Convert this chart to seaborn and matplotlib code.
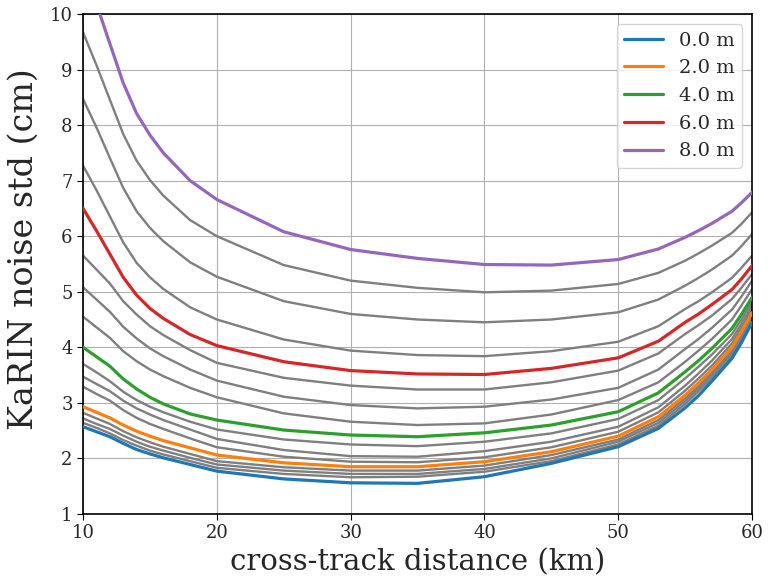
import numpy as np
import pandas as pd
import matplotlib
matplotlib.use("Agg")
import matplotlib.pyplot as plt
import seaborn as sns

# cross-track distance (km)
distance = [10, 11, 12, 13, 14, 15, 16, 18, 20, 25, 30, 35, 40, 45, 50, 53, 55, 56, 57, 58.5, 59.2, 60]

# significant wave height (m) of each curve
swh = [0.0, 0.5, 1.0, 1.5, 2.0, 2.5, 3.0, 3.5, 4.0, 4.5, 5.0, 5.5, 6.0, 6.5, 7.0, 7.5, 8.0]

# KaRIN noise std (cm), one row per swh value
noise_00 = [2.57, 2.48, 2.39, 2.27, 2.16, 2.08, 2.01, 1.89, 1.77, 1.63, 1.56, 1.55, 1.67, 1.91, 2.21, 2.54, 2.91, 3.13, 3.39, 3.80, 4.08, 4.45]
noise_05 = [2.64, 2.55, 2.45, 2.33, 2.23, 2.14, 2.07, 1.95, 1.83, 1.72, 1.66, 1.67, 1.76, 1.95, 2.25, 2.59, 2.98, 3.21, 3.45, 3.86, 4.15, 4.49]
noise_10 = [2.72, 2.62, 2.53, 2.41, 2.30, 2.21, 2.14, 2.01, 1.89, 1.78, 1.72, 1.72, 1.81, 2.00, 2.30, 2.64, 3.03, 3.26, 3.50, 3.90, 4.19, 4.53]
noise_15 = [2.82, 2.72, 2.62, 2.49, 2.38, 2.29, 2.21, 2.08, 1.95, 1.84, 1.78, 1.78, 1.87, 2.06, 2.34, 2.69, 3.08, 3.30, 3.54, 3.94, 4.23, 4.57]
noise_20 = [2.93, 2.83, 2.73, 2.60, 2.49, 2.40, 2.32, 2.19, 2.06, 1.92, 1.85, 1.85, 1.94, 2.12, 2.40, 2.75, 3.14, 3.36, 3.60, 4.00, 4.28, 4.62]
noise_25 = [3.29, 3.16, 3.04, 2.87, 2.73, 2.62, 2.53, 2.36, 2.20, 2.03, 1.94, 1.93, 2.02, 2.20, 2.48, 2.83, 3.22, 3.44, 3.67, 4.07, 4.35, 4.68]
noise_30 = [3.47, 3.34, 3.21, 3.04, 2.90, 2.79, 2.69, 2.52, 2.35, 2.15, 2.04, 2.03, 2.13, 2.30, 2.57, 2.92, 3.31, 3.53, 3.76, 4.15, 4.42, 4.75]
noise_35 = [3.70, 3.55, 3.39, 3.20, 3.05, 2.93, 2.83, 2.66, 2.52, 2.34, 2.25, 2.22, 2.30, 2.45, 2.71, 3.05, 3.44, 3.65, 3.87, 4.24, 4.50, 4.82]
noise_40 = [4.00, 3.83, 3.66, 3.43, 3.25, 3.10, 2.98, 2.80, 2.69, 2.51, 2.42, 2.39, 2.46, 2.60, 2.84, 3.18, 3.56, 3.76, 3.98, 4.34, 4.59, 4.90]
noise_45 = [4.55, 4.36, 4.17, 3.93, 3.75, 3.60, 3.48, 3.27, 3.10, 2.81, 2.66, 2.60, 2.63, 2.79, 3.05, 3.37, 3.74, 3.94, 4.15, 4.50, 4.75, 5.05]
noise_50 = [5.08, 4.86, 4.64, 4.37, 4.16, 3.98, 3.84, 3.60, 3.40, 3.11, 2.96, 2.90, 2.93, 3.06, 3.27, 3.60, 3.97, 4.15, 4.35, 4.68, 4.91, 5.20]
noise_55 = [5.65, 5.40, 5.15, 4.83, 4.59, 4.38, 4.22, 3.95, 3.72, 3.45, 3.31, 3.24, 3.24, 3.37, 3.58, 3.89, 4.24, 4.40, 4.57, 4.87, 5.07, 5.32]
noise_60 = [6.50, 6.10, 5.68, 5.26, 4.94, 4.70, 4.52, 4.23, 4.03, 3.74, 3.58, 3.52, 3.51, 3.62, 3.81, 4.11, 4.45, 4.60, 4.77, 5.04, 5.23, 5.47]
noise_65 = [7.27, 6.83, 6.36, 5.89, 5.52, 5.26, 5.05, 4.72, 4.50, 4.14, 3.94, 3.86, 3.84, 3.93, 4.10, 4.38, 4.69, 4.83, 4.99, 5.25, 5.43, 5.65]
noise_70 = [8.47, 7.96, 7.41, 6.87, 6.45, 6.15, 5.91, 5.53, 5.27, 4.83, 4.60, 4.50, 4.45, 4.50, 4.63, 4.86, 5.11, 5.25, 5.40, 5.65, 5.82, 6.04]
noise_75 = [9.67, 9.08, 8.46, 7.84, 7.36, 7.01, 6.73, 6.29, 6.00, 5.48, 5.20, 5.07, 4.99, 5.02, 5.14, 5.34, 5.56, 5.69, 5.83, 6.06, 6.22, 6.43]
noise_80 = [10.85, 10.18, 9.47, 8.76, 8.21, 7.82, 7.50, 7.00, 6.66, 6.08, 5.76, 5.60, 5.49, 5.48, 5.58, 5.77, 5.98, 6.10, 6.23, 6.45, 6.60, 6.79]

noise = [noise_00, noise_05, noise_10, noise_15, noise_20, noise_25, noise_30, noise_35, noise_40,
         noise_45, noise_50, noise_55, noise_60, noise_65, noise_70, noise_75, noise_80]

# highlighted heights and their colours
highlight = {0.0: "tab:blue", 2.0: "tab:orange", 4.0: "tab:green", 6.0: "tab:red", 8.0: "tab:purple"}

sns.set_style("ticks", {"axes.grid": True, "grid.color": "#b0b0b0", "axes.edgecolor": "black"})
plt.rcParams["font.family"] = ["DejaVu Serif"]

fig, ax = plt.subplots(figsize=(7.69, 5.84), dpi=100)
fig.subplots_adjust(left=0.108, right=0.978, top=0.976, bottom=0.12)

for h, vals in zip(swh, noise):
    df = pd.DataFrame({"x": distance, "y": vals})
    if h in highlight:
        sns.lineplot(data=df, x="x", y="y", color=highlight[h], linewidth=2.3,
                     label=f"{h:.1f} m", ax=ax, zorder=3)
    else:
        sns.lineplot(data=df, x="x", y="y", color="tab:gray", linewidth=1.7, ax=ax, zorder=2)

ax.set_xlim(10, 60)
ax.set_ylim(1, 10)
ax.set_xticks([10, 20, 30, 40, 50, 60])
ax.set_yticks(range(1, 11))
ax.tick_params(labelsize=13, direction="out", length=4, color="black")
ax.set_xlabel("cross-track distance (km)", fontsize=21)
ax.set_ylabel("KaRIN noise std (cm)", fontsize=24)
ax.yaxis.set_label_coords(-0.064, 0.53)
for s in ax.spines.values():
    s.set_linewidth(1.2)

ax.legend(loc="upper right", fontsize=14, frameon=True)

fig.savefig("out.png", dpi=100)
